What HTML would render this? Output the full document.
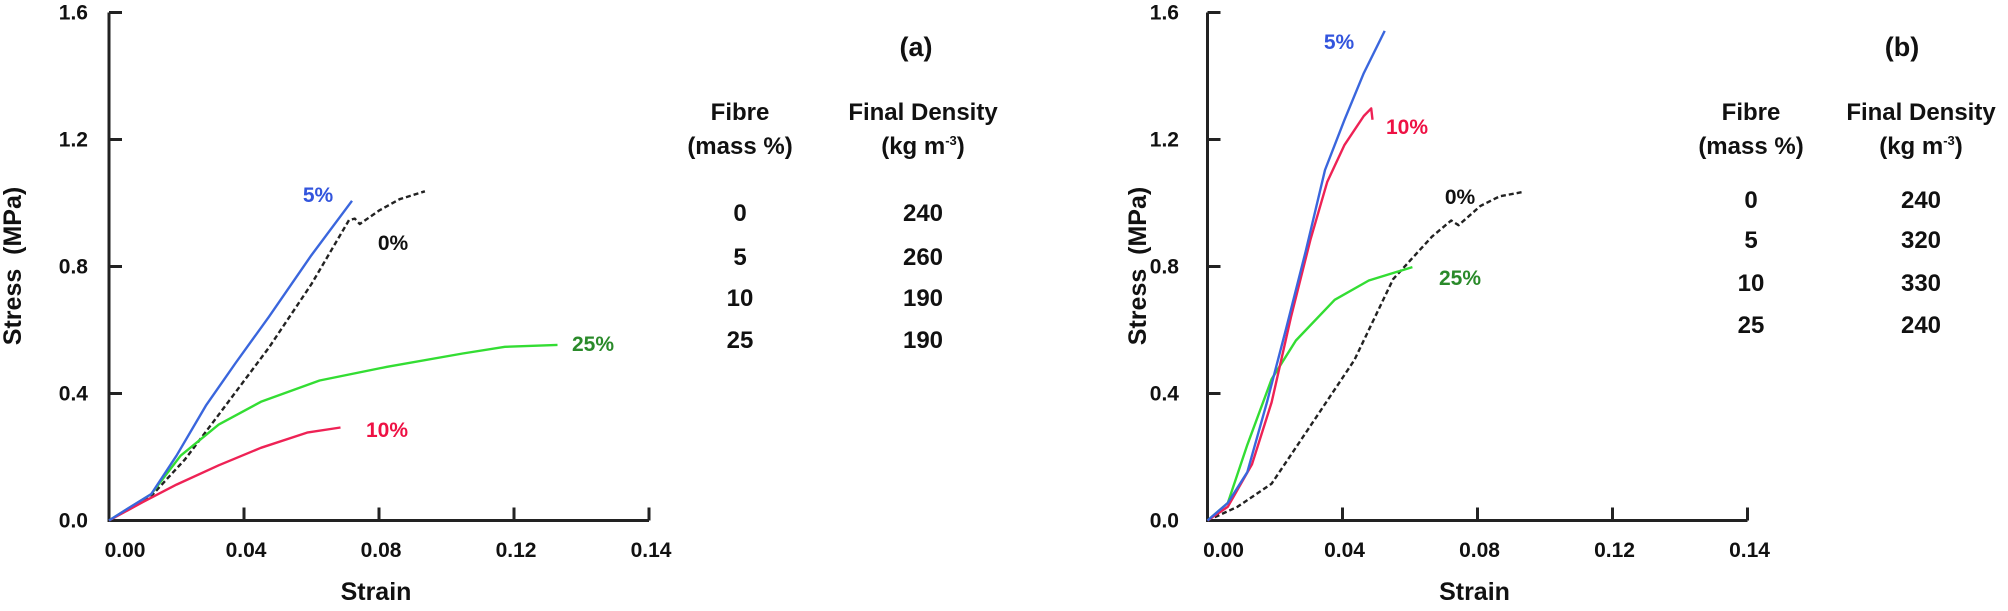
<!DOCTYPE html>
<html><head><meta charset="utf-8"><style>
body{margin:0;background:#fff}
svg{display:block;font-family:"Liberation Sans",sans-serif;font-weight:bold}
</style></head><body>
<svg id="fig" width="2008" height="611" viewBox="0 0 2008 611">
<g font-size="24" text-anchor="middle" fill="#111">
<text x="916" y="56" font-size="27">(a)</text>
<text x="740" y="120">Fibre</text>
<text x="740" y="154">(mass %)</text>
<text x="923" y="120">Final Density</text>
<text x="923" y="154">(kg m<tspan font-size="13" dy="-9">-3</tspan><tspan dy="9">)</tspan></text>
<text x="740" y="221">0</text><text x="923" y="221">240</text>
<text x="740" y="265">5</text><text x="923" y="265">260</text>
<text x="740" y="306">10</text><text x="923" y="306">190</text>
<text x="740" y="348">25</text><text x="923" y="348">190</text>
</g>
<g font-size="24" text-anchor="middle" fill="#111">
<text x="1902" y="56" font-size="27">(b)</text>
<text x="1751" y="120">Fibre</text>
<text x="1751" y="154">(mass %)</text>
<text x="1921" y="120">Final Density</text>
<text x="1921" y="154">(kg m<tspan font-size="13" dy="-9">-3</tspan><tspan dy="9">)</tspan></text>
<text x="1751" y="208">0</text><text x="1921" y="208">240</text>
<text x="1751" y="248">5</text><text x="1921" y="248">320</text>
<text x="1751" y="291">10</text><text x="1921" y="291">330</text>
<text x="1751" y="333">25</text><text x="1921" y="333">240</text>
</g>
</svg>
<script>
const xTicks=[0,0.04,0.08,0.12,0.16];
const xTickLabels=["0.00","0.04","0.08","0.12","0.14"];
const yTicks=[0,0.4,0.8,1.2,1.6];
const yTickLabels=["0.0","0.4","0.8","1.2","1.6"];
// Panel a
const a0x=[0,0.0125,0.0225,0.0337,0.0474,0.06,0.0711,0.0728,0.0743,0.08,0.0861,0.0936];
const a0y=[0,0.077,0.192,0.35,0.545,0.745,0.946,0.951,0.934,0.976,1.012,1.037];
const a5x=[0,0.005,0.0125,0.02,0.0287,0.0375,0.0474,0.06,0.072];
const a5y=[0,0.034,0.083,0.204,0.362,0.496,0.642,0.836,1.007];
const a10x=[0,0.01,0.02,0.0325,0.045,0.0587,0.0686];
const a10y=[0,0.058,0.113,0.174,0.229,0.277,0.293];
const a25x=[0,0.0125,0.0212,0.0325,0.045,0.0624,0.0824,0.1048,0.1173,0.1329];
const a25y=[0,0.083,0.204,0.302,0.374,0.441,0.484,0.526,0.547,0.553];
// Panel b
const b0x=[0,0.0089,0.019,0.0305,0.0435,0.055,0.0665,0.0722,0.0744,0.0809,0.0866,0.0931];
const b0y=[0,0.043,0.116,0.298,0.505,0.76,0.894,0.945,0.93,0.991,1.021,1.034];
const b5x=[0,0.006,0.0118,0.0176,0.0233,0.0291,0.0348,0.0406,0.0463,0.0525];
const b5y=[0,0.055,0.152,0.372,0.604,0.848,1.104,1.262,1.409,1.542];
const b10x=[0,0.006,0.0132,0.019,0.0247,0.0305,0.0355,0.0406,0.0463,0.0485,0.0489];
const b10y=[0,0.043,0.177,0.372,0.64,0.884,1.067,1.183,1.274,1.298,1.262];
const b25x=[0,0.006,0.0118,0.019,0.0262,0.0377,0.0478,0.0607];
const b25y=[0,0.055,0.238,0.445,0.567,0.695,0.756,0.798];

const NS="http://www.w3.org/2000/svg";
const svg=document.getElementById('fig');
function mk(tag,attrs,parent){const e=document.createElementNS(NS,tag);for(const k in attrs)e.setAttribute(k,attrs[k]);(parent||svg).appendChild(e);return e;}

function panel(id,ox,ylabRight,ytitleX,series,labels){
  const X=v=>ox+v/0.04*135;
  const Y=v=>520.5-v/0.4*127;
  const g=mk('g',{});
  
  
  const ax=mk('path',{d:`M${X(0)} ${Y(1.6)}V${Y(0)}H${X(0.16)}`,fill:'none',stroke:'#222','stroke-width':3},g);
  
  
  yTicks.forEach((t,i)=>{
    const tk=mk('line',{x1:X(0),x2:X(0)+13,y1:Y(t),y2:Y(t),stroke:'#222','stroke-width':3},g);
    
    
    const tl=mk('text',{x:ylabRight,y:Y(t)+7,'text-anchor':'end','font-size':21,fill:'#111'},g);
    
    
    tl.textContent=yTickLabels[i];
  });
  xTicks.forEach((t,i)=>{
    if(i>0){const tk=mk('line',{x1:X(t),x2:X(t),y1:Y(0),y2:Y(0)-13,stroke:'#222','stroke-width':3},g);
    
    }
    const tl=mk('text',{x:X(t)+(i===0?16:2),y:557,'text-anchor':'middle','font-size':21,fill:'#111'},g);
    
    
    tl.textContent=xTickLabels[i];
  });
  const xt=mk('text',{x:X(0.08)-3,y:600,'text-anchor':'middle','font-size':25,fill:'#111'},g);
  
  
  xt.textContent='Strain';
  const yt=mk('text',{x:0,y:0,'text-anchor':'middle','font-size':25,fill:'#111',transform:`translate(${ytitleX},266) rotate(-90)`},g);
  
  
  yt.textContent='Stress\u00a0 (MPa)';
  series.forEach(s=>{
    const d=s.x.map((v,i)=>(i?'L':'M')+X(v).toFixed(1)+' '+Y(s.y[i]).toFixed(1)).join('');
    const p=mk('path',{d:d,fill:'none',stroke:s.c,'stroke-width':2.4,'stroke-dasharray':s.dash||'none','stroke-linejoin':'round'},g);
    
    
  });
  labels.forEach(l=>{
    const t=mk('text',{x:l.x,y:l.y,'text-anchor':'middle','font-size':21,fill:l.c},g);
    
    
    t.textContent=l.t;
  });
}
panel('panel-a',109,88,21,[
 {name:'series-0pct',x:a0x,y:a0y,c:'#222',dash:'5 3'},
 {name:'series-25pct',x:a25x,y:a25y,c:'#33dd33'},
 {name:'series-10pct',x:a10x,y:a10y,c:'#ee2255'},
 {name:'series-5pct',x:a5x,y:a5y,c:'#3a66dd'}
],[
 {name:'label-5pct',t:'5%',x:318,y:202,c:'#3355dd'},
 {name:'label-0pct',t:'0%',x:393,y:250,c:'#111'},
 {name:'label-25pct',t:'25%',x:593,y:351,c:'#2a8a2a'},
 {name:'label-10pct',t:'10%',x:387,y:437,c:'#ee1144'}
]);
panel('panel-b',1207.5,1179,1146,[
 {name:'series-0pct',x:b0x,y:b0y,c:'#222',dash:'5 3'},
 {name:'series-25pct',x:b25x,y:b25y,c:'#33dd33'},
 {name:'series-10pct',x:b10x,y:b10y,c:'#ee2255'},
 {name:'series-5pct',x:b5x,y:b5y,c:'#3a66dd'}
],[
 {name:'label-5pct',t:'5%',x:1339,y:49,c:'#3355dd'},
 {name:'label-10pct',t:'10%',x:1407,y:134,c:'#ee1144'},
 {name:'label-0pct',t:'0%',x:1460,y:204,c:'#111'},
 {name:'label-25pct',t:'25%',x:1460,y:285,c:'#2a8a2a'}
]);
</script>
</body></html>
